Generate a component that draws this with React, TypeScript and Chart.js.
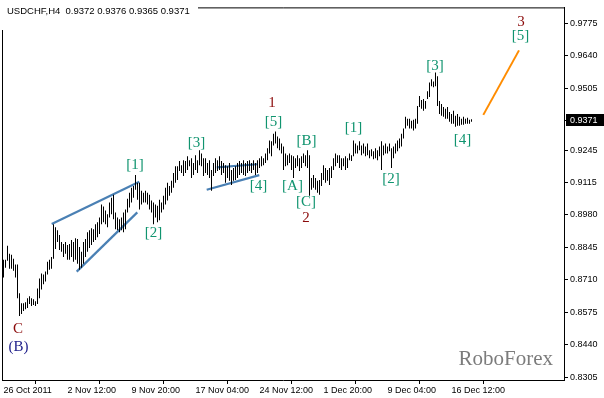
import React, { useEffect, useRef } from 'react';
import { Chart, registerables } from 'chart.js';

Chart.register(...registerables);

const symbol = 'USDCHF,H4';
const lastBar = [0.9372, 0.9376, 0.9365, 0.9371]; // open, high, low, close

const xTickLabels = ['26 Oct 2011', '2 Nov 12:00', '9 Nov 20:00', '17 Nov 04:00', '24 Nov 12:00', '1 Dec 20:00', '9 Dec 04:00', '16 Dec 12:00'];
const xTickIndex = [0, 32, 64, 96, 128, 160, 192, 224];
const yTicks = [0.9775, 0.964, 0.9505, 0.9371, 0.9245, 0.9115, 0.898, 0.8845, 0.871, 0.8575, 0.844, 0.8305];

const highs = [
  0.8792, 0.8792, 0.8850, 0.8817, 0.8813, 0.8796, 0.8772, 0.8772, 0.8653, 0.8612,
  0.8612, 0.8616, 0.8632, 0.8641, 0.8632, 0.8628, 0.8620, 0.8673, 0.8714, 0.8735,
  0.8731, 0.8743, 0.8784, 0.8792, 0.8804, 0.8940, 0.8927, 0.8915, 0.8895, 0.8866,
  0.8858, 0.8866, 0.8854, 0.8858, 0.8874, 0.8866, 0.8882, 0.8878, 0.8845, 0.8825,
  0.8866, 0.8878, 0.8907, 0.8915, 0.8923, 0.8919, 0.8940, 0.8948, 0.8968, 0.9022,
  0.9013, 0.8997, 0.8981, 0.9030, 0.9050, 0.9062, 0.8989, 0.8968, 0.8960, 0.8968,
  0.8989, 0.9001, 0.9046, 0.9071, 0.9091, 0.9099, 0.9144, 0.9112, 0.9112, 0.9079,
  0.9071, 0.9079, 0.9071, 0.9062, 0.9038, 0.9030, 0.9022, 0.9017, 0.9042, 0.9030,
  0.9058, 0.9091, 0.9112, 0.9099, 0.9120, 0.9153, 0.9181, 0.9181, 0.9202, 0.9185,
  0.9206, 0.9202, 0.9222, 0.9206, 0.9214, 0.9194, 0.9226, 0.9206, 0.9247, 0.9234,
  0.9214, 0.9214, 0.9194, 0.9206, 0.9165, 0.9194, 0.9214, 0.9206, 0.9222, 0.9202,
  0.9194, 0.9185, 0.9181, 0.9194, 0.9165, 0.9173, 0.9181, 0.9194, 0.9202, 0.9194,
  0.9206, 0.9194, 0.9202, 0.9206, 0.9194, 0.9206, 0.9194, 0.9206, 0.9214, 0.9222,
  0.9214, 0.9234, 0.9255, 0.9288, 0.9284, 0.9316, 0.9325, 0.9304, 0.9296, 0.9275,
  0.9263, 0.9234, 0.9226, 0.9234, 0.9226, 0.9222, 0.9214, 0.9226, 0.9214, 0.9222,
  0.9234, 0.9226, 0.9247, 0.9226, 0.9132, 0.9144, 0.9132, 0.9120, 0.9124, 0.9153,
  0.9185, 0.9173, 0.9165, 0.9173, 0.9181, 0.9214, 0.9234, 0.9226, 0.9226, 0.9214,
  0.9214, 0.9222, 0.9214, 0.9234, 0.9226, 0.9288, 0.9275, 0.9267, 0.9284, 0.9267,
  0.9275, 0.9263, 0.9275, 0.9247, 0.9251, 0.9243, 0.9255, 0.9247, 0.9263, 0.9284,
  0.9267, 0.9275, 0.9263, 0.9275, 0.9255, 0.9263, 0.9275, 0.9288, 0.9296, 0.9316,
  0.9337, 0.9386, 0.9378, 0.9378, 0.9370, 0.9374, 0.9378, 0.9431, 0.9472, 0.9456,
  0.9460, 0.9452, 0.9492, 0.9529, 0.9542, 0.9533, 0.9570, 0.9554, 0.9452, 0.9439,
  0.9427, 0.9419, 0.9427, 0.9406, 0.9398, 0.9411, 0.9390, 0.9398, 0.9386, 0.9378,
  0.9386, 0.9378, 0.9382, 0.9374, 0.9376,
];

const lows = [
  0.8718, 0.8759, 0.8788, 0.8755, 0.8755, 0.8747, 0.8718, 0.8632, 0.8559, 0.8567,
  0.8579, 0.8587, 0.8592, 0.8608, 0.8600, 0.8604, 0.8600, 0.8608, 0.8632, 0.8669,
  0.8690, 0.8702, 0.8731, 0.8751, 0.8755, 0.8796, 0.8837, 0.8866, 0.8833, 0.8825,
  0.8804, 0.8817, 0.8792, 0.8792, 0.8804, 0.8784, 0.8792, 0.8776, 0.8751, 0.8759,
  0.8776, 0.8804, 0.8825, 0.8841, 0.8854, 0.8866, 0.8874, 0.8886, 0.8899, 0.8940,
  0.8948, 0.8940, 0.8927, 0.8968, 0.8981, 0.8960, 0.8919, 0.8915, 0.8907, 0.8915,
  0.8907, 0.8919, 0.8989, 0.9009, 0.9030, 0.9050, 0.9083, 0.9042, 0.9001, 0.9022,
  0.9030, 0.9030, 0.9022, 0.9001, 0.8989, 0.8940, 0.8968, 0.8948, 0.8956, 0.8989,
  0.9001, 0.9022, 0.9038, 0.9058, 0.9071, 0.9091, 0.9112, 0.9124, 0.9161, 0.9153,
  0.9140, 0.9153, 0.9165, 0.9181, 0.9132, 0.9144, 0.9165, 0.9153, 0.9185, 0.9181,
  0.9140, 0.9153, 0.9144, 0.9132, 0.9079, 0.9140, 0.9153, 0.9161, 0.9165, 0.9144,
  0.9153, 0.9112, 0.9132, 0.9120, 0.9103, 0.9120, 0.9124, 0.9132, 0.9144, 0.9153,
  0.9144, 0.9140, 0.9153, 0.9161, 0.9153, 0.9165, 0.9144, 0.9153, 0.9173, 0.9181,
  0.9185, 0.9194, 0.9206, 0.9234, 0.9222, 0.9267, 0.9275, 0.9255, 0.9247, 0.9234,
  0.9165, 0.9181, 0.9185, 0.9194, 0.9165, 0.9132, 0.9173, 0.9181, 0.9161, 0.9173,
  0.9194, 0.9181, 0.9173, 0.9058, 0.9083, 0.9091, 0.9083, 0.9071, 0.9062, 0.9099,
  0.9124, 0.9112, 0.9120, 0.9103, 0.9132, 0.9165, 0.9181, 0.9194, 0.9173, 0.9165,
  0.9181, 0.9165, 0.9173, 0.9206, 0.9202, 0.9222, 0.9234, 0.9234, 0.9247, 0.9226,
  0.9234, 0.9222, 0.9226, 0.9214, 0.9222, 0.9210, 0.9214, 0.9206, 0.9222, 0.9165,
  0.9226, 0.9234, 0.9234, 0.9243, 0.9173, 0.9214, 0.9234, 0.9243, 0.9255, 0.9263,
  0.9296, 0.9337, 0.9349, 0.9337, 0.9337, 0.9329, 0.9337, 0.9357, 0.9427, 0.9419,
  0.9411, 0.9419, 0.9460, 0.9468, 0.9513, 0.9509, 0.9513, 0.9431, 0.9398, 0.9390,
  0.9386, 0.9378, 0.9378, 0.9366, 0.9357, 0.9357, 0.9345, 0.9349, 0.9349, 0.9353,
  0.9353, 0.9357, 0.9357, 0.9357, 0.9365,
];

// trend lines (bar index, price)
const wedgeUpper = [{ x: 24.1, y: 0.8941 }, { x: 67.9, y: 0.9116 }];
const wedgeLower = [{ x: 36.6, y: 0.8743 }, { x: 66.9, y: 0.8989 }];
const triangleUpper = [{ x: 106.6, y: 0.9176 }, { x: 126.9, y: 0.9189 }];
const triangleLower = [{ x: 101.6, y: 0.9083 }, { x: 127.9, y: 0.9144 }];
const forecastLine = [{ x: 239.9, y: 0.9394 }, { x: 257.75, y: 0.9662 }];

// wave labels: text, bar index, price, degree
const waveText = ['C', '(B)', '[1]', '[2]', '[3]', '[4]', '[5]', '1', '[B]', '[A]', '[C]', '2', '[1]', '[2]', '[3]', '[4]', '3', '[5]'];
const waveIndex = [7.25, 7.5, 65.75, 75, 96.5, 127.5, 135, 134.25, 151.5, 144.5, 151.25, 151.25, 175, 193.75, 215.75, 229.5, 258.75, 258.5];
const wavePrice = [0.8497, 0.8422, 0.9179, 0.8893, 0.9269, 0.9089, 0.9355, 0.9435, 0.9275, 0.9091, 0.9024, 0.8958, 0.9331, 0.9118, 0.9589, 0.9282, 0.9771, 0.9712];
const waveDegree = ['minor', 'inter', 'sub', 'sub', 'sub', 'sub', 'sub', 'minor', 'sub', 'sub', 'sub', 'minor', 'sub', 'sub', 'sub', 'sub', 'minor', 'sub'];

const degreeColor: Record<string, string> = { minor: '#8b0a0a', inter: '#23238c', sub: '#10946f' };

export default function App() {
  const ref = useRef<HTMLCanvasElement | null>(null);

  useEffect(() => {
    if (!ref.current) return;
    const sansFont = '"Liberation Sans", Arial, sans-serif';
    const serifFont = '"Liberation Serif", "Times New Roman", serif';

    const decor = {
      id: 'decor',
      beforeDraw(chart: any) {
        const ctx = chart.ctx;
        ctx.save();
        ctx.fillStyle = '#fff';
        ctx.fillRect(0, 0, chart.width, chart.height);
        ctx.restore();
      },
      beforeDatasetsDraw(chart: any) {
        const { ctx, chartArea } = chart;
        ctx.save();
        ctx.strokeStyle = '#000';
        ctx.lineWidth = 1;
        ctx.beginPath();
        ctx.moveTo(chartArea.left + 0.5, chartArea.bottom);
        ctx.lineTo(chartArea.left + 0.5, chartArea.top + 0.5);
        ctx.lineTo(chartArea.right, chartArea.top + 0.5);
        ctx.stroke();
        ctx.fillStyle = '#7c7c7c';
        ctx.font = '21px ' + serifFont;
        ctx.textAlign = 'right';
        ctx.textBaseline = 'alphabetic';
        ctx.fillText('RoboForex', chartArea.right - 11, 365);
        ctx.restore();
      },
      afterDatasetsDraw(chart: any) {
        const { ctx, scales } = chart;
        ctx.save();
        ctx.textAlign = 'center';
        ctx.textBaseline = 'middle';
        waveText.forEach((t, k) => {
          ctx.font = '15px ' + serifFont;
          ctx.fillStyle = degreeColor[waveDegree[k]];
          ctx.fillText(t, scales.x.getPixelForValue(waveIndex[k]), scales.y.getPixelForValue(wavePrice[k]) - 2);
        });
        ctx.restore();
      },
      afterDraw(chart: any) {
        const { ctx, scales, chartArea } = chart;
        ctx.save();
        // title
        ctx.fillStyle = '#fff';
        ctx.fillRect(0, 0, 198, 30);
        ctx.fillStyle = '#000';
        ctx.font = '9.5px ' + sansFont;
        ctx.textAlign = 'left';
        ctx.textBaseline = 'middle';
        ctx.fillText(symbol + '  ' + lastBar.map((v) => v.toFixed(4)).join(' '), 7, 11);
        // current price label
        const py = Math.round(scales.y.getPixelForValue(lastBar[3]));
        ctx.font = '9px ' + sansFont;
        ctx.fillStyle = '#000';
        ctx.fillRect(chartArea.right + 2, py - 6, chart.width - chartArea.right - 2, 12);
        ctx.fillStyle = '#fff';
        ctx.fillText(lastBar[3].toFixed(4), chartArea.right + 6, py + 0.5);
        ctx.restore();
      },
    };

    const lineDs = (data: any[], color: string, width: number) => ({
      type: 'line' as const,
      data,
      borderColor: color,
      borderWidth: width,
      pointRadius: 0,
      fill: false,
      tension: 0,
    });

    const chart = new Chart(ref.current, {
      type: 'bar',
      data: {
        datasets: [
          {
            type: 'bar',
            data: highs.map((h, i) => ({ x: i, y: [lows[i], h] })) as any,
            backgroundColor: '#000',
            borderWidth: 0,
            barThickness: 1,
            inflateAmount: 0,
          } as any,
          lineDs(wedgeUpper, '#4a80b4', 2.2),
          lineDs(wedgeLower, '#4a80b4', 2.2),
          lineDs(triangleUpper, '#4a80b4', 2.2),
          lineDs(triangleLower, '#4a80b4', 2.2),
          lineDs(forecastLine, '#ff8c00', 2),
        ],
      },
      options: {
        responsive: false,
        animation: false,
        devicePixelRatio: 1,
        layout: { padding: { top: 2, left: 2, right: 0, bottom: 0 } },
        plugins: { legend: { display: false }, tooltip: { enabled: false } },
        scales: {
          x: {
            type: 'linear',
            min: -0.75,
            max: 280.25,
            offset: false,
            afterBuildTicks: (scale: any) => {
              scale.ticks = xTickIndex.map((v) => ({ value: v }));
            },
            afterFit: (scale: any) => {
              scale.height = 18;
            },
            grid: { drawOnChartArea: false, drawTicks: true, tickLength: 4, color: '#000' },
            border: { display: true, color: '#000' },
            ticks: {
              autoSkip: false,
              maxRotation: 0,
              align: 'start',
              padding: 1,
              color: '#000',
              font: { family: sansFont, size: 9 },
              callback: (v: any) => {
                const k = xTickIndex.indexOf(Number(v));
                return k >= 0 ? xTickLabels[k] : '';
              },
            },
          },
          y: {
            type: 'linear',
            position: 'right',
            min: 0.829272,
            max: 0.984052,
            afterBuildTicks: (scale: any) => {
              scale.ticks = yTicks.map((v) => ({ value: v }));
            },
            afterFit: (scale: any) => {
              scale.width = 40;
            },
            grid: { drawOnChartArea: false, drawTicks: true, tickLength: 4, color: '#000' },
            border: { display: true, color: '#000' },
            ticks: {
              autoSkip: false,
              padding: 2,
              color: '#000',
              font: { family: sansFont, size: 9 },
              callback: (v: any) => Number(v).toFixed(4),
            },
          },
        },
      } as any,
      plugins: [decor],
    });
    return () => chart.destroy();
  }, []);

  return (
    <div style={{ position: 'fixed', left: 0, top: 0, width: 604, height: 398, background: '#fff' }}>
      <canvas ref={ref} width={604} height={398} style={{ display: 'block', width: 604, height: 398 }} />
    </div>
  );
}
